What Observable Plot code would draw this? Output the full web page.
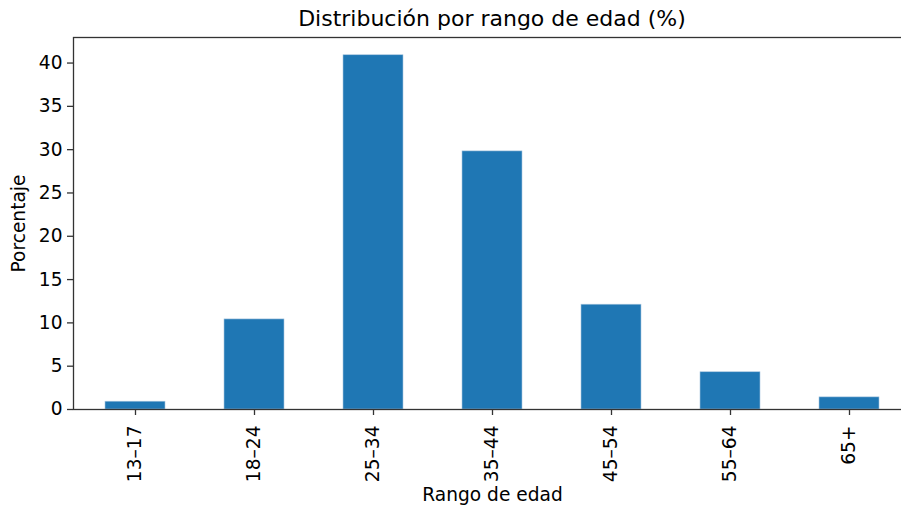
<!DOCTYPE html>
<html>
<head>
<meta charset="utf-8">
<script src="https://cdn.jsdelivr.net/npm/d3@7"></script>
<script src="https://cdn.jsdelivr.net/npm/@observablehq/plot@0.6"></script>
<style>
  html, body { margin: 0; padding: 0; background: #fff; }
  #wrap { width: 901px; height: 508px; overflow: hidden; position: relative; font-family: "DejaVu Sans", sans-serif; }
  #title { position: absolute; left: 0; width: 984px; text-align: center; font-size: 22px; line-height: 22px; top: 8px; color: #000; }
  #chart { position: absolute; left: 0; top: 36px; width: 913px; }
  #chart svg { max-width: none !important; }
</style>
</head>
<body>
<div id="wrap">
  <div id="title">Distribución por rango de edad (%)</div>
  <div id="chart"></div>
</div>
<script>
const categories = ["13–17", "18–24", "25–34", "35–44", "45–54", "55–64", "65+"];
const values = [0.9, 10.4, 40.9, 29.8, 12.1, 4.3, 1.4];
const yTicks = [0, 5, 10, 15, 20, 25, 30, 35, 40];

const data = categories.map((c, i) => ({rango: c, pct: values[i]}));

const chart = Plot.plot({
  width: 913,
  height: 472,
  marginLeft: 73,
  marginRight: 2,
  marginTop: 1,
  marginBottom: 99,
  style: {fontFamily: "DejaVu Sans, sans-serif", fontSize: "18.6px", color: "#000", background: "#fff", maxWidth: "none"},
  x: {domain: categories, paddingInner: 0.5, paddingOuter: 0.25},
  y: {domain: [0, 42.95]},
  marks: [
    Plot.barY(data, {x: "rango", y: "pct", fill: "#1f77b4", stroke: "#a9c6df", strokeWidth: 0.6}),
    Plot.frame({stroke: "#333", strokeWidth: 1.3}),
    Plot.axisY(yTicks, {tickSize: 6, tickPadding: 5, stroke: "#333", strokeWidth: 1.3, label: "Porcentaje", labelAnchor: "center", labelArrow: "none", labelOffset: 62}),
    Plot.axisX({tickSize: 6, tickPadding: 10, tickRotate: -90, stroke: "#333", strokeWidth: 1.3, label: "Rango de edad", labelAnchor: "center", labelArrow: "none", labelOffset: 91})
  ]
});
chart.style.maxWidth = "none";
document.getElementById("chart").appendChild(chart);
</script>
</body>
</html>
